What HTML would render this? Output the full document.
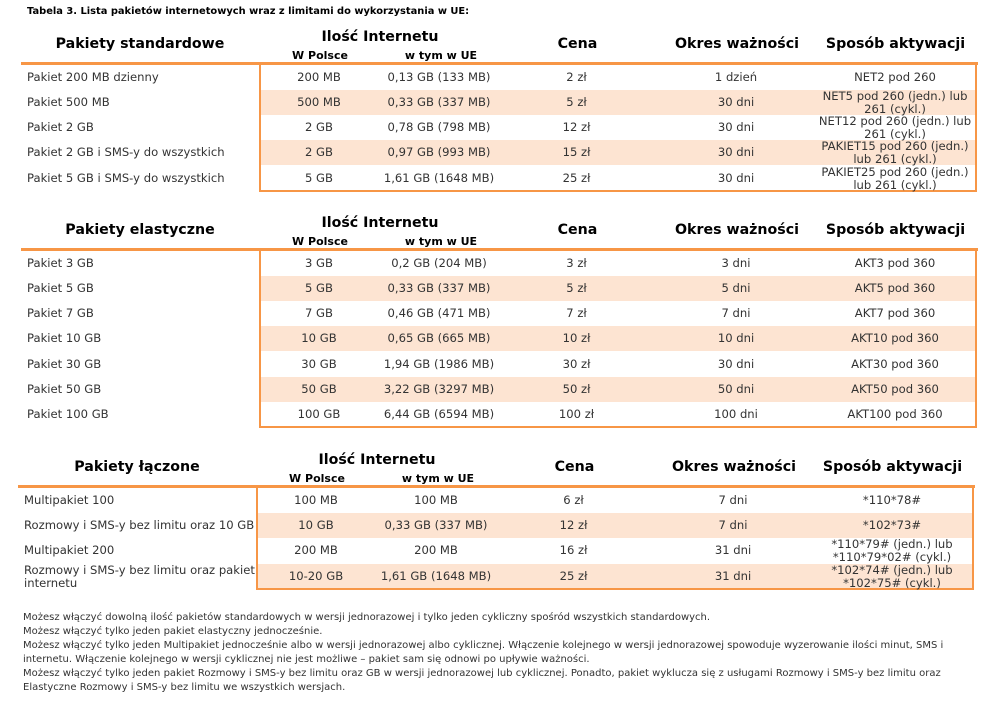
<!DOCTYPE html>
<html><head><meta charset="utf-8"><style>
body{margin:0;width:999px;height:706px;background:#fff;font-family:"DejaVu Sans","Liberation Sans",sans-serif;color:#333;position:relative;overflow:hidden}
.a{position:absolute}
.t{font-size:9.9px;font-weight:bold;color:#000;left:27px;top:6px}
.h{position:absolute;font-weight:bold;color:#000;font-size:14.2px;text-align:center;white-space:nowrap}
.s{position:absolute;font-weight:bold;color:#000;font-size:11px;text-align:center;white-space:nowrap}
.line{position:absolute;height:3px;background:#f79646}
.box{position:absolute;border:2px solid #f79646;border-top:none;box-sizing:border-box}
.row{position:absolute;height:25px;display:flex;align-items:center;font-size:11.6px}
.row div{text-align:center;line-height:13px}
.row .l{text-align:left;width:238px;padding-left:6px;box-sizing:border-box}
.pe{position:absolute;height:25px;background:#fde4d2}
.fn{position:absolute;left:23px;top:611px;font-size:10px;line-height:14px;color:#333;white-space:nowrap}
</style></head><body>
<div class="a t">Tabela 3. Lista pakietów internetowych wraz z limitami do wykorzystania w UE:</div>

<!-- Table 1 -->
<div class="h" style="left:21px;width:238px;top:36px">Pakiety standardowe</div>
<div class="h" style="left:280px;width:200px;top:29px">Ilość Internetu</div>
<div class="s" style="left:260px;width:120px;top:49px">W Polsce</div>
<div class="s" style="left:381px;width:120px;top:49px">w tym w UE</div>
<div class="h" style="left:500px;width:155px;top:36px">Cena</div>
<div class="h" style="left:655px;width:164px;top:36px">Okres ważności</div>
<div class="h" style="left:817px;width:157px;top:36px">Sposób aktywacji</div>
<div class="pe" style="left:260px;width:715px;top:90px"></div>
<div class="pe" style="left:260px;width:715px;top:140px"></div>
<div class="box" style="left:259px;width:718px;top:63px;height:129px"></div>
<div class="line" style="left:21px;width:957px;top:62px"></div>
<div class="row" style="left:21px;top:65px"><div class="l">Pakiet 200 MB dzienny</div><div style="width:120px">200 MB</div><div style="width:120px">0,13 GB (133 MB)</div><div style="width:155px">2 zł</div><div style="width:164px">1 dzień</div><div style="width:154px">NET2 pod 260</div></div>
<div class="row" style="left:21px;top:90px"><div class="l">Pakiet 500 MB</div><div style="width:120px">500 MB</div><div style="width:120px">0,33 GB (337 MB)</div><div style="width:155px">5 zł</div><div style="width:164px">30 dni</div><div style="width:154px">NET5 pod 260 (jedn.) lub 261 (cykl.)</div></div>
<div class="row" style="left:21px;top:115px"><div class="l">Pakiet 2 GB</div><div style="width:120px">2 GB</div><div style="width:120px">0,78 GB (798 MB)</div><div style="width:155px">12 zł</div><div style="width:164px">30 dni</div><div style="width:154px">NET12 pod 260 (jedn.) lub 261 (cykl.)</div></div>
<div class="row" style="left:21px;top:140px"><div class="l">Pakiet 2 GB i SMS-y do wszystkich</div><div style="width:120px">2 GB</div><div style="width:120px">0,97 GB (993 MB)</div><div style="width:155px">15 zł</div><div style="width:164px">30 dni</div><div style="width:154px">PAKIET15 pod 260 (jedn.) lub 261 (cykl.)</div></div>
<div class="row" style="left:21px;top:166px"><div class="l">Pakiet 5 GB i SMS-y do wszystkich</div><div style="width:120px">5 GB</div><div style="width:120px">1,61 GB (1648 MB)</div><div style="width:155px">25 zł</div><div style="width:164px">30 dni</div><div style="width:154px">PAKIET25 pod 260 (jedn.) lub 261 (cykl.)</div></div>

<!-- Table 2 -->
<div class="h" style="left:21px;width:238px;top:222px">Pakiety elastyczne</div>
<div class="h" style="left:280px;width:200px;top:215px">Ilość Internetu</div>
<div class="s" style="left:260px;width:120px;top:235px">W Polsce</div>
<div class="s" style="left:381px;width:120px;top:235px">w tym w UE</div>
<div class="h" style="left:500px;width:155px;top:222px">Cena</div>
<div class="h" style="left:655px;width:164px;top:222px">Okres ważności</div>
<div class="h" style="left:817px;width:157px;top:222px">Sposób aktywacji</div>
<div class="pe" style="left:260px;width:715px;top:276px"></div>
<div class="pe" style="left:260px;width:715px;top:326px"></div>
<div class="pe" style="left:260px;width:715px;top:377px"></div>
<div class="box" style="left:259px;width:718px;top:249px;height:179px"></div>
<div class="line" style="left:21px;width:957px;top:248px"></div>
<div class="row" style="left:21px;top:251px"><div class="l">Pakiet 3 GB</div><div style="width:120px">3 GB</div><div style="width:120px">0,2 GB (204 MB)</div><div style="width:155px">3 zł</div><div style="width:164px">3 dni</div><div style="width:154px">AKT3 pod 360</div></div>
<div class="row" style="left:21px;top:276px"><div class="l">Pakiet 5 GB</div><div style="width:120px">5 GB</div><div style="width:120px">0,33 GB (337 MB)</div><div style="width:155px">5 zł</div><div style="width:164px">5 dni</div><div style="width:154px">AKT5 pod 360</div></div>
<div class="row" style="left:21px;top:301px"><div class="l">Pakiet 7 GB</div><div style="width:120px">7 GB</div><div style="width:120px">0,46 GB (471 MB)</div><div style="width:155px">7 zł</div><div style="width:164px">7 dni</div><div style="width:154px">AKT7 pod 360</div></div>
<div class="row" style="left:21px;top:326px"><div class="l">Pakiet 10 GB</div><div style="width:120px">10 GB</div><div style="width:120px">0,65 GB (665 MB)</div><div style="width:155px">10 zł</div><div style="width:164px">10 dni</div><div style="width:154px">AKT10 pod 360</div></div>
<div class="row" style="left:21px;top:352px"><div class="l">Pakiet 30 GB</div><div style="width:120px">30 GB</div><div style="width:120px">1,94 GB (1986 MB)</div><div style="width:155px">30 zł</div><div style="width:164px">30 dni</div><div style="width:154px">AKT30 pod 360</div></div>
<div class="row" style="left:21px;top:377px"><div class="l">Pakiet 50 GB</div><div style="width:120px">50 GB</div><div style="width:120px">3,22 GB (3297 MB)</div><div style="width:155px">50 zł</div><div style="width:164px">50 dni</div><div style="width:154px">AKT50 pod 360</div></div>
<div class="row" style="left:21px;top:402px"><div class="l">Pakiet 100 GB</div><div style="width:120px">100 GB</div><div style="width:120px">6,44 GB (6594 MB)</div><div style="width:155px">100 zł</div><div style="width:164px">100 dni</div><div style="width:154px">AKT100 pod 360</div></div>

<!-- Table 3 -->
<div class="h" style="left:18px;width:238px;top:459px">Pakiety łączone</div>
<div class="h" style="left:277px;width:200px;top:452px">Ilość Internetu</div>
<div class="s" style="left:257px;width:120px;top:472px">W Polsce</div>
<div class="s" style="left:378px;width:120px;top:472px">w tym w UE</div>
<div class="h" style="left:497px;width:155px;top:459px">Cena</div>
<div class="h" style="left:652px;width:164px;top:459px">Okres ważności</div>
<div class="h" style="left:814px;width:157px;top:459px">Sposób aktywacji</div>
<div class="pe" style="left:257px;width:715px;top:513px"></div>
<div class="pe" style="left:257px;width:715px;top:564px"></div>
<div class="box" style="left:256px;width:718px;top:486px;height:104px"></div>
<div class="line" style="left:18px;width:957px;top:485px"></div>
<div class="row" style="left:18px;top:488px"><div class="l">Multipakiet 100</div><div style="width:120px">100 MB</div><div style="width:120px">100 MB</div><div style="width:155px">6 zł</div><div style="width:164px">7 dni</div><div style="width:154px">*110*78#</div></div>
<div class="row" style="left:18px;top:513px"><div class="l">Rozmowy i SMS-y bez limitu oraz 10 GB</div><div style="width:120px">10 GB</div><div style="width:120px">0,33 GB (337 MB)</div><div style="width:155px">12 zł</div><div style="width:164px">7 dni</div><div style="width:154px">*102*73#</div></div>
<div class="row" style="left:18px;top:538px"><div class="l">Multipakiet 200</div><div style="width:120px">200 MB</div><div style="width:120px">200 MB</div><div style="width:155px">16 zł</div><div style="width:164px">31 dni</div><div style="width:154px">*110*79# (jedn.) lub *110*79*02# (cykl.)</div></div>
<div class="row" style="left:18px;top:564px"><div class="l">Rozmowy i SMS-y bez limitu oraz pakiet internetu</div><div style="width:120px">10-20 GB</div><div style="width:120px">1,61 GB (1648 MB)</div><div style="width:155px">25 zł</div><div style="width:164px">31 dni</div><div style="width:154px">*102*74# (jedn.) lub *102*75# (cykl.)</div></div>

<div class="fn">Możesz włączyć dowolną ilość pakietów standardowych w wersji jednorazowej i tylko jeden cykliczny spośród wszystkich standardowych.<br>Możesz włączyć tylko jeden pakiet elastyczny jednocześnie.<br>Możesz włączyć tylko jeden Multipakiet jednocześnie albo w wersji jednorazowej albo cyklicznej. Włączenie kolejnego w wersji jednorazowej spowoduje wyzerowanie ilości minut, SMS i<br>internetu. Włączenie kolejnego w wersji cyklicznej nie jest możliwe – pakiet sam się odnowi po upływie ważności.<br>Możesz włączyć tylko jeden pakiet Rozmowy i SMS-y bez limitu oraz GB w wersji jednorazowej lub cyklicznej. Ponadto, pakiet wyklucza się z usługami Rozmowy i SMS-y bez limitu oraz<br>Elastyczne Rozmowy i SMS-y bez limitu we wszystkich wersjach.</div>
</body></html>
